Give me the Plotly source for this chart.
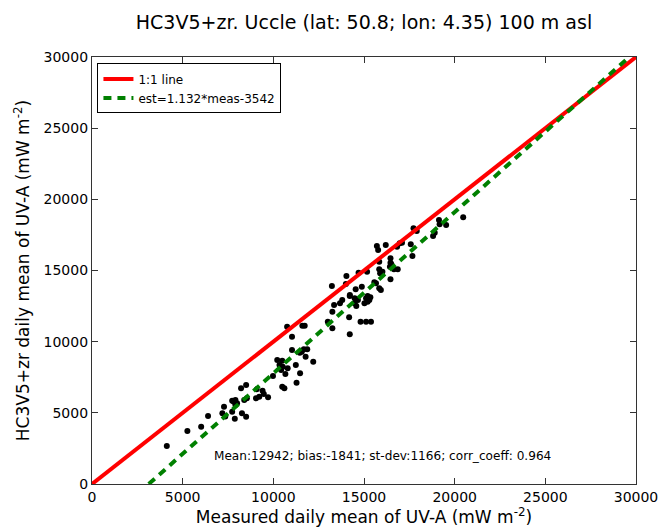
import plotly.graph_objects as go

# Measured (x) vs modelled (y) daily mean UV-A, mW m-2
meas = [4125, 5260, 6020, 6400, 7280, 7190, 7350, 7820, 7910, 7730, 7875, 8270, 8500,
        7730, 7910, 8000, 8395, 8540, 9045, 9225, 9710, 9405, 9475, 9080, 8220, 8500,
        10490, 10610, 9980, 10665, 11475, 11280, 10430, 10790, 10520, 10340, 10215, 10490,
        11240, 11780, 12200, 11460, 11570, 11680, 11870, 11030, 11030, 10760, 11600, 11730,
        13255, 13005, 13255, 14215, 14180, 14810, 15115, 15385, 13350, 13675, 13800, 14485,
        14575, 14485, 14665, 15115, 15200, 15295, 15025, 14220, 14540, 14880, 13230, 14000,
        14030, 14700, 15170, 15570, 15840, 15930, 15840, 16015, 15890, 15840, 16460, 16460,
        16430, 16460, 15710, 15780, 16200, 17730, 17910, 19135, 19170, 19530, 18900, 18810,
        17580, 17670, 17095, 16825, 16500, 16650, 16860, 15660, 14215, 15200, 15350, 20470,
        16970]
est = [2670, 3720, 4030, 4780, 5430, 4970, 4750, 5780, 5550, 5080, 4590, 4970, 4730,
       5850, 5900, 5670, 5900, 6020, 6020, 6135, 6090, 6555, 6320, 6650, 6720, 6955,
       6840, 6720, 7590, 7730, 7775, 7120, 8010, 8130, 8240, 8360, 8710, 8665,
       8360, 8945, 8590, 9225, 9300, 9460, 9460, 9415, 10350, 11050, 11120, 11120,
       10940, 11400, 12100, 10520, 11710, 11400, 11400, 11400, 12580, 12700, 12930, 12700,
       12500, 13050, 12930, 13050, 12810, 12930, 12700, 13280, 13680, 13860, 13910, 14050,
       14615, 14850, 14920, 14170, 13750, 13630, 15085, 14915, 14800, 15620, 15855, 15550,
       15270, 14380, 16720, 16440, 16790, 17960, 17775, 18550, 18245, 18200, 17660, 17425,
       16840, 16020, 16950, 16675, 15460, 15085, 15085, 14100, 13210, 13210, 13120, 18740,
       16910]

one_x = [0, 30000]
one_y = [0, 30000]
slope, intercept = 1.132, -3542
fit_x = [-intercept / slope, (30000 - intercept) / slope]
fit_y = [slope * v + intercept for v in fit_x]

stats_text = "Mean:12942; bias:-1841; st-dev:1166; corr_coeff: 0.964"
ticks = [0, 5000, 10000, 15000, 20000, 25000, 30000]
tick_labels = ["0", "5000", "10000", "15000", "20000", "25000", "30000"]

FONT = "DejaVu Sans"

fig = go.Figure()
fig.add_trace(go.Scatter(x=meas, y=est, mode="markers",
                         marker=dict(color="black", size=6), showlegend=False))
fig.add_trace(go.Scatter(x=one_x, y=one_y, mode="lines", name="1:1 line",
                         line=dict(color="#ff0000", width=4)))
fig.add_trace(go.Scatter(x=fit_x, y=fit_y, mode="lines", name="est=1.132*meas-3542",
                         line=dict(color="#008000", width=4, dash="8px,6px")))

axis_common = dict(range=[0, 30000], tickvals=ticks, ticktext=tick_labels,
                   showgrid=False, zeroline=False,
                   ticks="inside", ticklen=6, tickcolor="#333", mirror="ticks",
                   showline=True, linecolor="#333", linewidth=1.2,
                   tickfont=dict(family=FONT, size=14, color="black"))

fig.update_layout(
    width=670, height=529,
    margin=dict(l=92, r=23, t=57, b=45),
    paper_bgcolor="white", plot_bgcolor="white",
    font=dict(family=FONT, color="black"),
    title=dict(text="HC3V5+zr. Uccle (lat: 50.8; lon: 4.35) 100 m asl",
               x=0.5, xref="paper", xanchor="center", y=0.958, yanchor="middle",
               font=dict(family=FONT, size=19, color="black")),
    xaxis=dict(axis_common, title=dict(text="Measured daily mean of UV-A (mW m<sup>-2</sup>)",
                                       standoff=0, font=dict(family=FONT, size=17))),
    yaxis=dict(axis_common, title=dict(text="HC3V5+zr daily mean of UV-A (mW m<sup>-2</sup>)",
                                       standoff=9, font=dict(family=FONT, size=17))),
    legend=dict(x=0.01, y=0.985, xanchor="left", yanchor="top",
                bordercolor="black", borderwidth=1, bgcolor="white",
                font=dict(family=FONT, size=12), tracegroupgap=0),
    showlegend=True,
)

fig.add_annotation(text=stats_text, xref="paper", yref="paper", x=0.535, y=0.0445,
                   showarrow=False, font=dict(family=FONT, size=12.1, color="black"))

fig.write_html("out.html",
               config={"displayModeBar": False},
               post_script="var gd=document.getElementById('{plot_id}');"
                           "gd.style.position='fixed';gd.style.left='0px';gd.style.top='0px';"
                           "document.documentElement.style.overflow='hidden';"
                           "document.body.style.margin='0';"
                           "document.body.style.overflow='hidden';")
